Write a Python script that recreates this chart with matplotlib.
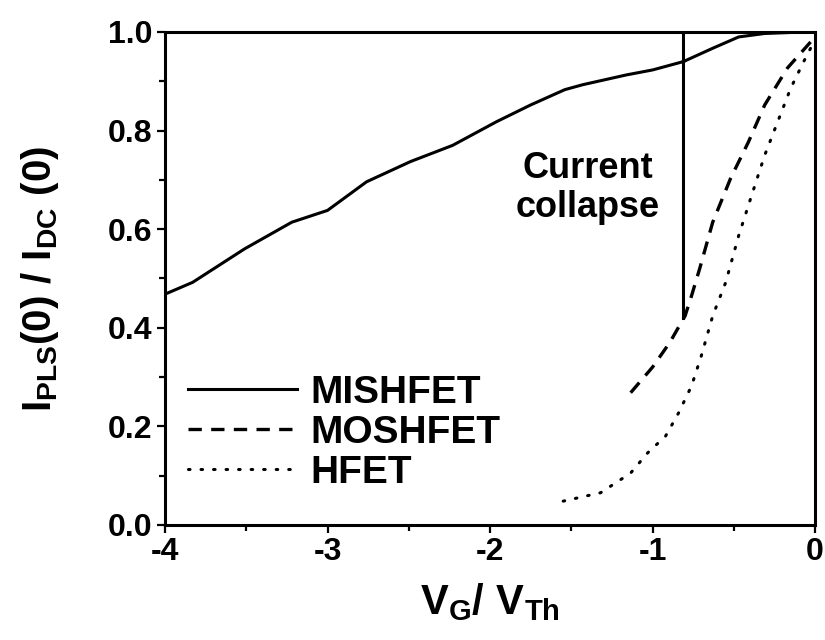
import numpy as np
import matplotlib
matplotlib.use("Agg")
import matplotlib.pyplot as plt
from matplotlib.ticker import MultipleLocator

plt.rcParams['font.family'] = ['Liberation Sans', 'DejaVu Sans']
plt.rcParams['font.weight'] = 'bold'
plt.rcParams['mathtext.fontset'] = 'custom'
plt.rcParams['mathtext.rm'] = 'Liberation Sans:bold'
plt.rcParams['mathtext.bf'] = 'Liberation Sans:bold'
plt.rcParams['mathtext.it'] = 'Liberation Sans:bold'

# MISHFET (solid)
mis_x = [-4.0, -3.83, -3.51, -3.22, -3.0, -2.76, -2.49, -2.23, -1.96, -1.75,
         -1.54, -1.43, -1.16, -1.0, -0.81]
mis_y = [0.468, 0.492, 0.56, 0.614, 0.638, 0.696, 0.737, 0.77, 0.818, 0.852,
         0.883, 0.893, 0.913, 0.923, 0.94]
# drop at the collapse point, then the upper branch
drop_x = [-0.81, -0.81]
drop_y = [1.0, 0.42]
mis2_x = [-0.81, -0.63, -0.47, -0.31, -0.15, 0.0]
mis2_y = [0.94, 0.967, 0.99, 0.997, 0.999, 1.0]

# MOSHFET (dashed)
mos_x = [-1.135, -1.0, -0.894, -0.80, -0.76, -0.71, -0.63, -0.52, -0.41, -0.31, -0.17, 0.0]
mos_y = [0.268, 0.32, 0.37, 0.424, 0.465, 0.52, 0.614, 0.703, 0.777, 0.852, 0.927, 0.99]

# HFET (dotted)
hf_x = [-1.55, -1.32, -1.135, -1.03, -0.92, -0.84, -0.76, -0.70, -0.63, -0.55,
        -0.47, -0.39, -0.31, -0.23, -0.15, -0.07, 0.0]
hf_y = [0.048, 0.065, 0.105, 0.146, 0.18, 0.227, 0.282, 0.343, 0.424, 0.492,
        0.587, 0.669, 0.75, 0.818, 0.886, 0.94, 0.985]

fig = plt.figure(figsize=(8.25, 6.4), dpi=100)
ax = fig.add_axes([0.2, 0.18, 0.788, 0.77])

ax.plot(mis_x, mis_y, color='black', lw=2.2, label='MISHFET')
ax.plot(mis2_x, mis2_y, color='black', lw=2.2)
ax.plot(drop_x, drop_y, color='black', lw=2.2)
ax.plot(mos_x, mos_y, color='black', lw=2.4, ls=(0, (4, 2.8)), label='MOSHFET')
ax.plot(hf_x, hf_y, color='black', lw=2.2, ls=(0, (0.5, 3.6)),
        dash_capstyle='round', label='HFET')

ax.text(-1.40, 0.683, 'Current\ncollapse', ha='center', va='center',
        fontsize=26, linespacing=1.15)

ax.set_xlim(-4, 0)
ax.set_ylim(0, 1.0)
ax.xaxis.set_minor_locator(MultipleLocator(0.5))
ax.yaxis.set_major_locator(MultipleLocator(0.2))
ax.yaxis.set_minor_locator(MultipleLocator(0.1))
ax.set_xticks([-4, -3, -2, -1, 0])
ax.set_xticklabels(['-4', '-3', '-2', '-1', '0'])
ax.yaxis.set_major_formatter(plt.FormatStrFormatter('%.1f'))
ax.tick_params(which='both', direction='out', labelsize=23, width=1.6, pad=3)
ax.tick_params(which='major', length=6)
ax.tick_params(which='minor', length=4)
for s in ax.spines.values():
    s.set_linewidth(2.2)

ax.set_xlabel(r'$\mathbf{V_G/\ V_{Th}}$', fontsize=30, labelpad=10)
ax.set_ylabel(r'$\mathbf{I_{PLS}(0)\ /\ I_{DC}\ (0)}$', fontsize=29, labelpad=34)

ax.legend(loc='center left', bbox_to_anchor=(0.035, 0.187), frameon=False,
          fontsize=28, handlelength=2.8, handletextpad=0.36,
          labelspacing=0.1, borderpad=0, borderaxespad=0)

fig.savefig('out.png', dpi=100)
